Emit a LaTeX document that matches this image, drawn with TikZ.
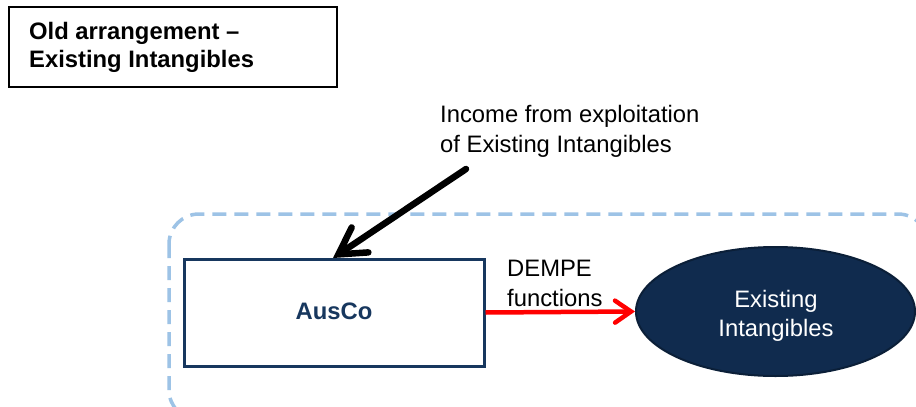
\documentclass[tikz,border=0pt]{standalone}
\usepackage{fontspec}
\setmainfont{Liberation Sans}
\usetikzlibrary{arrows.meta,shapes.geometric}
\definecolor{navy}{HTML}{17375E}
\definecolor{ellfill}{HTML}{102B4E}
\definecolor{elldraw}{HTML}{0B1F38}
\definecolor{dashblue}{HTML}{9DC3E6}
\definecolor{arrred}{HTML}{FF0000}
\tikzset{
  txt/.style={font=\fontsize{23.8}{29}\selectfont, inner sep=0pt},
  titletxt/.style={font=\fontsize{23.8}{29}\selectfont\bfseries, inner sep=0pt},
  group/.style={draw=dashblue, line width=3.5pt, dash pattern=on 14pt off 8pt, rounded corners=30pt},
  titlebox/.style={draw=black, line width=2pt},
  firmbox/.style={draw=navy, line width=3pt},
  intang/.style={ellipse, draw=elldraw, line width=2pt, fill=ellfill, text=white, inner sep=0pt},
  bigarrow/.style={draw=black, line width=6.5pt, line cap=round, -{Straight Barb[length=26pt, width=30pt, line cap=round]}},
  redarrow/.style={draw=arrred, line width=4.5pt, -{Straight Barb[length=16pt, width=22pt, line cap=round]}}
}
\begin{document}
\begin{tikzpicture}[x=1pt, y=-1pt]
\useasboundingbox (0,0) rectangle (916,407);
\fill[white] (0,0) rectangle (916,407);
\begin{scope}
\clip (0,0) rectangle (916,407);
\draw[group] (169,214) rectangle (928,420);
\end{scope}
% title box
\draw[titlebox] (9,7) rectangle (337,87);
\node[titletxt, anchor=base west] (t1) at (29,39) {Old arrangement –};
\node[titletxt, anchor=base west] (t2) at (29,67) {Existing Intangibles};
% AusCo box
\node[firmbox, minimum width=300pt, minimum height=107pt, inner sep=0pt] (ausco) at (334,312.5) {};
\node[font=\fontsize{23.8}{29}\selectfont\bfseries, text=navy, anchor=base, inner sep=0pt] (auscolabel) at (334,319) {AusCo};
% ellipse
\node[intang, minimum width=279pt, minimum height=129pt] (ei) at (775.5,311.5) {};
\node[txt, text=white, anchor=base] (ei1) at (776,307) {Existing};
\node[txt, text=white, anchor=base] (ei2) at (776,336) {Intangibles};
% income label
\node[txt, anchor=base west] (inc1) at (440,122) {Income from exploitation};
\node[txt, anchor=base west] (inc2) at (440,152) {of Existing Intangibles};
\coordinate (tail) at (466,169);
\coordinate (tip) at (333,258);
\draw[bigarrow] (tail) -- (tip);
% DEMPE
\node[txt, anchor=base west] (d1) at (507,276) {DEMPE};
\node[txt, anchor=base west] (d2) at (507,306) {functions};
\draw[redarrow] (ausco.east) -- (ei.west);
\end{tikzpicture}
\end{document}
